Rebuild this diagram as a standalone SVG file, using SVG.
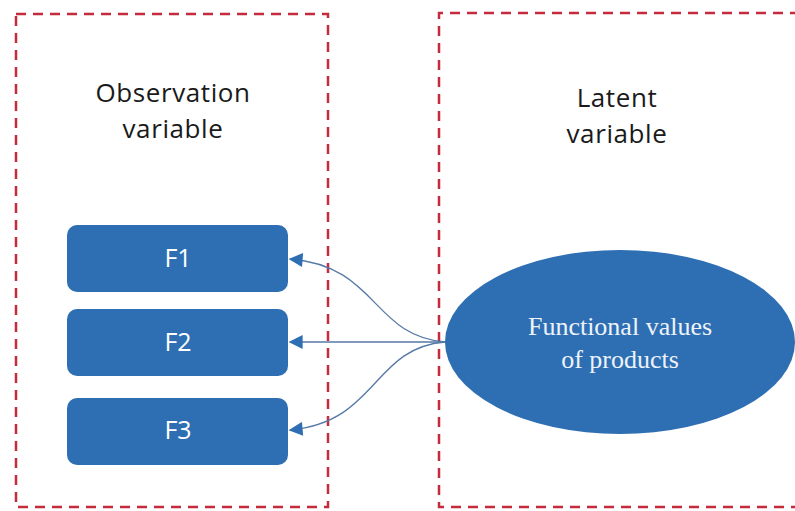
<svg xmlns="http://www.w3.org/2000/svg" width="795" height="511" viewBox="0 0 795 511">
  <defs>
    <style>
      .frame { fill: none; stroke: #c42b3c; stroke-width: 2.5; stroke-dasharray: 10 7; }
      .title { font-family: "Open Sans", "DejaVu Sans", sans-serif; font-size: 26px; letter-spacing: 0.6px; fill: #1a1a1a; text-anchor: middle; }
      .box { fill: #2e6fb3; }
      .boxlabel { font-family: "Open Sans", "DejaVu Sans", sans-serif; font-size: 25px; fill: #ffffff; text-anchor: middle; }
      .ell { fill: #2e6fb3; }
      .elllabel { font-family: "Liberation Serif", "Times New Roman", serif; font-size: 26px; fill: #eef3fa; text-anchor: middle; }
      .link { fill: none; stroke: #5679a6; stroke-width: 1.3; marker-end: url(#arrow); }
    </style>
    <marker id="arrow" viewBox="0 0 10 10" refX="9" refY="5" markerWidth="15" markerHeight="14" markerUnits="userSpaceOnUse" orient="auto">
      <path d="M0,0 L10,5 L0,10 z" fill="#2e6fb3"/>
    </marker>
  </defs>

  <rect width="795" height="511" fill="#ffffff"/>

  <!-- group frames -->
  <g id="observation-group">
    <rect class="frame" x="16" y="14" width="312" height="493"/>
    <text class="title" x="173" y="102">Observation</text>
    <text class="title" x="173" y="138">variable</text>
  </g>
  <g id="latent-group">
    <path class="frame" d="M800 13 H439 V507 H800"/>
    <text class="title" x="617" y="107">Latent</text>
    <text class="title" x="617" y="143">variable</text>
  </g>

  <!-- observed indicators -->
  <g id="F1">
    <rect class="box" x="67" y="225" width="221" height="67" rx="10"/>
    <text class="boxlabel" x="178" y="267">F1</text>
  </g>
  <g id="F2">
    <rect class="box" x="67" y="309" width="221" height="67" rx="10"/>
    <text class="boxlabel" x="178" y="351">F2</text>
  </g>
  <g id="F3">
    <rect class="box" x="67" y="398" width="221" height="67" rx="10"/>
    <text class="boxlabel" x="178" y="439">F3</text>
  </g>

  <!-- latent construct -->
  <g id="functional-values">
    <ellipse class="ell" cx="620" cy="342" rx="175" ry="92"/>
    <text class="elllabel" x="620" y="335">Functional values</text>
    <text class="elllabel" x="620" y="368">of products</text>
  </g>

  <!-- connectors -->
  <g id="connectors">
    <path class="link" d="M445 342 C372 336 378 266 290 259"/>
    <path class="link" d="M445 342 H290"/>
    <path class="link" d="M445 342 C372 348 378 422 290 430"/>
  </g>
</svg>
